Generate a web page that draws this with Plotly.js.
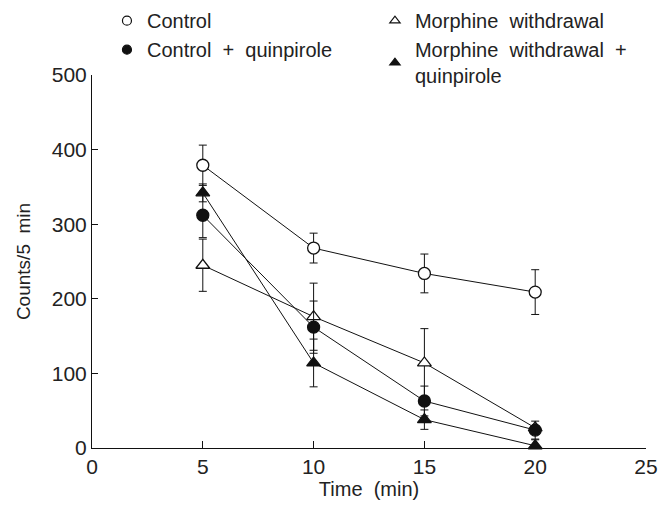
<!DOCTYPE html>
<html>
<head>
<meta charset="utf-8">
<script src="https://cdn.plot.ly/plotly-3.0.1.min.js"></script>
<style>html,body{margin:0;padding:0;background:#fff;}#chart{width:658px;height:507px;}</style>
</head>
<body>
<div id="chart"></div>
<script>
const time = [5, 10, 15, 20];

const controlMean = [379, 268, 234, 209];
const controlErr  = [27, 20, 26, 30];

const morphineMean = [245, 176, 114, 27];
const morphineErr  = [35, 45, 46, 0];

const controlQMean = [312, 162, 63, 24];
const controlQErr  = [30, 35, 20, 12];

const morphineQMean = [342, 114, 38, 3];
const morphineQErr  = [12, 32, 13, 8];

const S = "\u00a0\u00a0";
const names = ["Control", "Morphine" + S + "withdrawal", "Control" + S + "+" + S + "quinpirole", "Morphine" + S + "withdrawal" + S + "+<br>quinpirole"];
const symbols = ["circle", "triangle-up", "circle", "triangle-up"];
const fills = ["#fff", "#fff", "#111", "#111"];
const means = [controlMean, morphineMean, controlQMean, morphineQMean];
const errs = [controlErr, morphineErr, controlQErr, morphineQErr];

const traces = [];
for (let i = 0; i < 4; i++) {
  traces.push({
    x: time, y: means[i], name: names[i], type: "scatter", mode: "lines+markers",
    showlegend: false,
    line: {color: "#111", width: 1},
    marker: {symbol: symbols[i], size: 12, color: fills[i], line: {color: "#111", width: 1.3}},
    error_y: {type: "data", array: errs[i], visible: true, color: "#111", thickness: 1, width: 4},
    cliponaxis: false
  });
}
for (let i = 0; i < 4; i++) {
  traces.push({
    x: [null], y: [null], name: names[i], type: "scatter", mode: "markers",
    showlegend: true,
    marker: {symbol: symbols[i], size: 9, color: fills[i], line: {color: "#111", width: 1.2}}
  });
}

const font = {family: "Liberation Sans, Arial, sans-serif", color: "#222"};

const layout = {
  width: 658, height: 507,
  margin: {l: 92, r: 12, t: 75, b: 59, autoexpand: false},
  paper_bgcolor: "#fff", plot_bgcolor: "#fff",
  font: Object.assign({size: 20}, font),
  showlegend: true,
  legend: {
    orientation: "h", x: 0.027, y: 1.198, xanchor: "left", yanchor: "top",
    entrywidth: 223, entrywidthmode: "pixels", itemwidth: 30,
    font: Object.assign({size: 20}, font),
    bgcolor: "rgba(0,0,0,0)"
  },
  xaxis: {
    range: [0, 25], dtick: 5, tick0: 0,
    showline: true, linecolor: "#111", linewidth: 1,
    ticks: "inside", ticklen: 7, tickcolor: "#111",
    showgrid: false, zeroline: false,
    tickfont: Object.assign({size: 21}, font),
    title: {text: "Time\u00a0\u00a0(min)", font: Object.assign({size: 20}, font), standoff: 4}
  },
  yaxis: {
    range: [0, 500], dtick: 100, tick0: 0,
    showline: true, linecolor: "#111", linewidth: 1,
    ticks: "inside", ticklen: 6, tickcolor: "#111",
    showgrid: false, zeroline: false,
    tickfont: Object.assign({size: 21}, font),
    title: {text: "Counts/5\u00a0\u00a0min", font: Object.assign({size: 19}, font), standoff: 16}
  }
};

Plotly.newPlot("chart", traces, layout, {displayModeBar: false, staticPlot: true});
</script>
</body>
</html>
